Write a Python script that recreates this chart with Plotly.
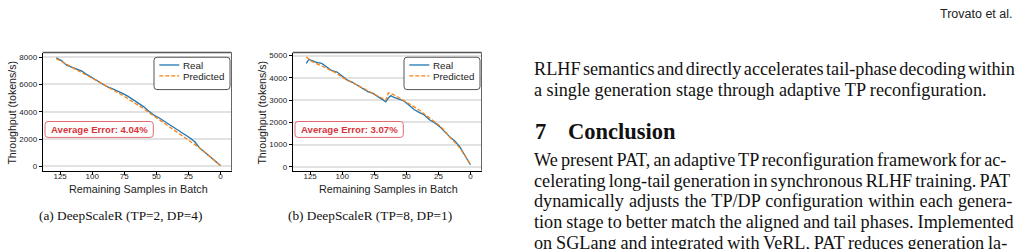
import plotly.graph_objects as go

W, H = 1023, 249

# ---------------- data ----------------
x_a = [128, 124, 120, 116, 112, 108, 104, 100, 96, 92, 88, 84, 80, 76, 72, 68, 64,
       60, 56, 52, 48, 44, 40, 36, 32, 28, 24, 20, 16, 12, 8, 4, 0]
real_a = [7950, 7750, 7420, 7260, 7130, 6980, 6720, 6480, 6280, 6050, 5820, 5680, 5520,
          5330, 5130, 4880, 4620, 4380, 4050, 3760, 3560, 3320, 3100, 2850, 2600, 2350,
          2100, 1800, 1320, 1020, 700, 380, 60]
pred_a = [7900, 7680, 7450, 7250, 7060, 6870, 6680, 6470, 6260, 6040, 5810, 5600, 5400,
          5190, 4960, 4720, 4480, 4230, 3960, 3700, 3430, 3160, 2900, 2640, 2380, 2130,
          1870, 1600, 1330, 1020, 700, 370, 50]

x_b = [128, 126, 124, 120, 116, 112, 108, 104, 100, 96, 92, 88, 84, 80, 76, 72, 68, 66,
       64, 62, 60, 56, 52, 48, 44, 40, 36, 32, 28, 24, 20, 16, 12, 8, 4, 0]
real_b = [4650, 4830, 4780, 4690, 4650, 4480, 4320, 4260, 4060, 3900, 3800, 3660, 3520,
          3380, 3300, 3150, 2980, 2920, 3100, 3200, 3130, 3040, 2960, 2780, 2580, 2450,
          2330, 2120, 1990, 1810, 1560, 1340, 1150, 880, 480, 100]
pred_b = [4940, 4850, 4750, 4640, 4530, 4430, 4300, 4200, 4020, 3900, 3780, 3680, 3540,
          3430, 3320, 3200, 3050, 3000, 3330, 3300, 3250, 3120, 2980, 2830, 2700, 2560,
          2380, 2200, 2030, 1850, 1620, 1330, 1100, 830, 480, 120]

x_ticks = [125, 100, 75, 50, 25, 0]
y_ticks_a = [0, 2000, 4000, 6000, 8000]
y_ticks_b = [0, 1000, 2000, 3000, 4000, 5000]

series_names = ["Real", "Predicted"]
errors = ["Average Error: 4.04%", "Average Error: 3.07%"]
captions = ["(a) DeepScaleR (TP=2, DP=4)", "(b) DeepScaleR (TP=8, DP=1)"]
x_title = "Remaining Samples in Batch"
y_title = "Throughput (tokens/s)"

header = "Trovato et al."
para1 = ["RLHF semantics and directly accelerates tail-phase decoding within",
         "a single generation stage through adaptive TP reconfiguration."]
section_num = "7"
section_title = "Conclusion"
para2 = ["We present PAT, an adaptive TP reconfiguration framework for ac-",
         "celerating long-tail generation in synchronous RLHF training. PAT",
         "dynamically adjusts the TP/DP configuration within each genera-",
         "tion stage to better match the aligned and tail phases. Implemented",
         "on SGLang and integrated with VeRL, PAT reduces generation la-"]
# word spacing (px) used to justify each body line (None = last line, ragged)
para1_ws = [-2.1, None]
para2_ws = [-1.45, -1.45, 0.45, -0.58, -0.7]

# ---------------- styling ----------------
BLUE = "#1f77b4"
ORANGE = "#ff7f0e"
SANS = "Liberation Sans, Arial, sans-serif"
SERIF = "Liberation Serif, Times New Roman, serif"
RED = "#d8343c"
BODY = 18.2
LEAD = 21.0


def px(x):
    return x / W


def py(y):
    return 1 - y / H


def rrect(x0, y0, x1, y1, r):
    pts = [("M", x0 + r, y0), ("L", x1 - r, y0), ("Q", x1, y0, x1, y0 + r),
           ("L", x1, y1 - r), ("Q", x1, y1, x1 - r, y1), ("L", x0 + r, y1),
           ("Q", x0, y1, x0, y1 - r), ("L", x0, y0 + r), ("Q", x0, y0, x0 + r, y0)]
    s = ""
    for p in pts:
        cmd = p[0]
        coords = p[1:]
        parts = []
        for i in range(0, len(coords), 2):
            parts.append(f"{px(coords[i]):.5f},{py(coords[i+1]):.5f}")
        s += cmd + " " + " ".join(parts) + " "
    return s + "Z"


def justified(line, ws):
    if ws is None:
        return line
    return f'<span style="word-spacing:{ws}px">{line}</span>'


fig = go.Figure()

panels = [
    dict(x=x_a, real=real_a, pred=pred_a, yt=y_ticks_a, yr=[-315, 8340],
         x0=42.7, x1=231.5, ax="", err=errors[0], cap=captions[0]),
    dict(x=x_b, real=real_b, pred=pred_b, yt=y_ticks_b, yr=[-165, 5134],
         x0=292.7, x1=481.5, ax="2", err=errors[1], cap=captions[1]),
]
TOP, BOT = 52, 171

shapes = []
annotations = []

for i, p in enumerate(panels):
    xa = "x" + p["ax"]
    ya = "y" + p["ax"]
    fig.add_trace(go.Scatter(x=p["x"], y=p["real"], mode="lines", name=series_names[0],
                             line=dict(color=BLUE, width=1.3), showlegend=False,
                             xaxis=xa, yaxis=ya))
    fig.add_trace(go.Scatter(x=p["x"], y=p["pred"], mode="lines", name=series_names[1],
                             line=dict(color=ORANGE, width=1.3, dash="4px,2px"),
                             showlegend=False, xaxis=xa, yaxis=ya))
    axis_common = dict(showline=True, linecolor="black", linewidth=1, ticks="outside",
                       ticklen=3, tickwidth=1, tickcolor="black", zeroline=False,
                       tickfont=dict(family=SANS, size=8, color="#222"))
    fig.update_layout(**{
        "xaxis" + p["ax"]: dict(domain=[px(p["x0"]), px(p["x1"])], range=[138.6, -8.6],
                                tickvals=x_ticks, showgrid=False, anchor=ya,
                                ticklabelstandoff=-5, **axis_common),
        "yaxis" + p["ax"]: dict(domain=[py(BOT), py(TOP)], range=p["yr"], tickvals=p["yt"],
                                showgrid=True, gridcolor="#e2e2e2", gridwidth=1.5,
                                anchor=xa, **axis_common),
    })
    # top / right spines
    shapes.append(dict(type="line", xref=xa + " domain", yref=ya + " domain",
                       x0=0, x1=1, y0=1, y1=1, line=dict(color="#555", width=1.5)))
    shapes.append(dict(type="line", xref=xa + " domain", yref=ya + " domain",
                       x0=1, x1=1, y0=0, y1=1, line=dict(color="#666", width=1)))
    off = p["x0"] - 42.7
    # legend box
    shapes.append(dict(type="path", xref="paper", yref="paper",
                       path=rrect(154 + off, 56.7, 230 + off, 89.3, 3),
                       fillcolor="white", line=dict(color="#555", width=1), layer="above"))
    shapes.append(dict(type="line", xref="paper", yref="paper",
                       x0=px(159.3 + off), x1=px(179.3 + off), y0=py(64.5), y1=py(64.5),
                       line=dict(color=BLUE, width=1.3), layer="above"))
    shapes.append(dict(type="line", xref="paper", yref="paper",
                       x0=px(159.3 + off), x1=px(179.3 + off), y0=py(75.5), y1=py(75.5),
                       line=dict(color=ORANGE, width=1.3, dash="4px,2px"), layer="above"))
    for j, yy in enumerate([65, 76]):
        annotations.append(dict(text=series_names[j], x=px(181.5 + off), y=py(yy),
                                xref="paper", yref="paper", xanchor="left", yanchor="middle",
                                showarrow=False, borderpad=0,
                                font=dict(family=SANS, size=9.8, color="#222")))
    # error box
    shapes.append(dict(type="path", xref="paper", yref="paper",
                       path=rrect(45 + off, 121.5, 153.3 + off, 137.5, 3),
                       fillcolor="white", line=dict(color="#e06a6e", width=1), layer="above"))
    annotations.append(dict(text="<b>" + p["err"] + "</b>", x=px(99.2 + off), y=py(129.3),
                            xref="paper", yref="paper", xanchor="center", yanchor="middle",
                            showarrow=False, borderpad=0,
                            font=dict(family=SANS, size=9.6, color=RED)))
    # axis titles
    annotations.append(dict(text=y_title, x=px(12 + off), y=py(112.5), xref="paper",
                            yref="paper", xanchor="center", yanchor="middle", textangle=-90,
                            showarrow=False, font=dict(family=SANS, size=10.6, color="#222")))
    annotations.append(dict(text=x_title, x=px(138.5 + off), y=py(189.5), xref="paper",
                            yref="paper", xanchor="center", yanchor="middle",
                            showarrow=False, font=dict(family=SANS, size=10.8, color="#222")))
    # caption
    annotations.append(dict(text=p["cap"], x=px(120 + off), y=py(216), xref="paper",
                            yref="paper", xanchor="center", yanchor="middle",
                            showarrow=False, font=dict(family=SERIF, size=13.3, color="#111")))

# right-hand page text
annotations.append(dict(text=header, x=px(1014), y=py(12.7), xref="paper", yref="paper",
                        xanchor="right", yanchor="middle", showarrow=False, borderpad=0,
                        font=dict(family=SANS, size=12.5, color="#222")))
for k, line in enumerate(para1):
    annotations.append(dict(text=justified(line, para1_ws[k]), x=px(533),
                            y=py(68.5 + LEAD * k), xref="paper", yref="paper",
                            xanchor="left", yanchor="middle", showarrow=False, borderpad=0,
                            font=dict(family=SERIF, size=BODY, color="#111")))
annotations.append(dict(text="<b>" + section_num + "</b>", x=px(534), y=py(131.7),
                        xref="paper", yref="paper", xanchor="left", yanchor="middle",
                        showarrow=False, borderpad=0,
                        font=dict(family=SERIF, size=22.5, color="#111")))
annotations.append(dict(text="<b>" + section_title + "</b>", x=px(566.7), y=py(131.7),
                        xref="paper", yref="paper", xanchor="left", yanchor="middle",
                        showarrow=False, borderpad=0,
                        font=dict(family=SERIF, size=22.5, color="#111")))
for k, line in enumerate(para2):
    annotations.append(dict(text=justified(line, para2_ws[k]), x=px(533),
                            y=py(160 + LEAD * k), xref="paper", yref="paper",
                            xanchor="left", yanchor="middle", showarrow=False, borderpad=0,
                            font=dict(family=SERIF, size=BODY, color="#111")))

fig.update_layout(width=W, height=H, margin=dict(l=0, r=0, t=0, b=0),
                  paper_bgcolor="white", plot_bgcolor="white",
                  shapes=shapes, annotations=annotations, showlegend=False)

fig.write_html("out.html")
